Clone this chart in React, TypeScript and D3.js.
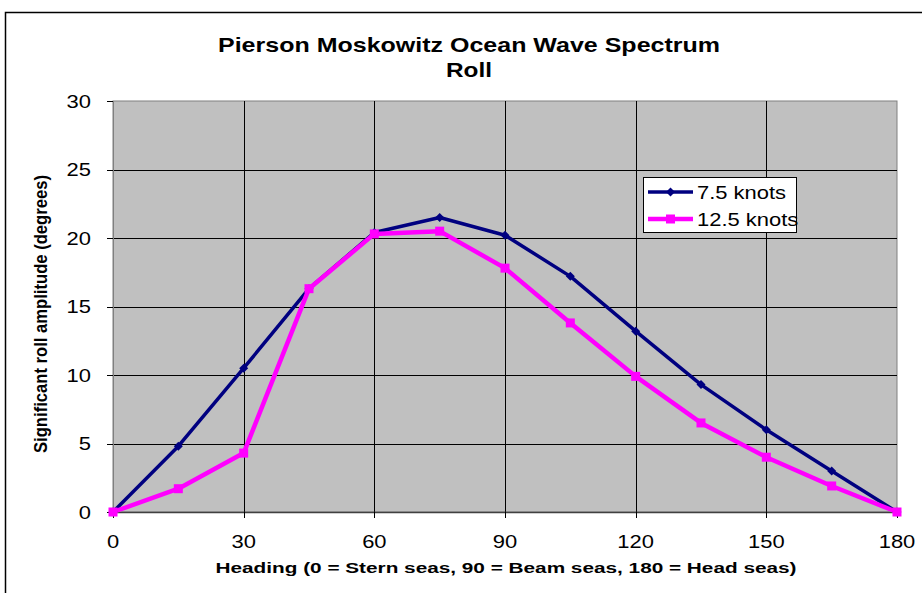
import * as d3 from "d3";
import React from "react";

const headings = [0, 15, 30, 45, 60, 75, 90, 105, 120, 135, 150, 165, 180];
const roll75 = [0, 4.8, 10.5, 16.3, 20.4, 21.5, 20.2, 17.2, 13.2, 9.3, 6.0, 3.0, 0];
const roll125 = [0, 1.7, 4.3, 16.3, 20.3, 20.5, 17.8, 13.8, 9.9, 6.5, 4.0, 1.9, 0];
const xTicks = [0, 30, 60, 90, 120, 150, 180];
const yTicks = [0, 5, 10, 15, 20, 25, 30];
const seriesNames = ["7.5 knots", "12.5 knots"];

// the source picture is stretched sideways, text gets the same stretch
const SX = 1.22;
const FONT = "'Liberation Sans', Arial, sans-serif";

function SText(props: { x: number, y: number, size: number, bold?: boolean, anchor?: string, rotate?: number, len?: number, children: any }) {
    const { x, y, size, bold, anchor, rotate, len, children } = props;
    const tf = rotate
        ? `translate(${x},${y}) scale(${SX},1) rotate(${rotate})`
        : `translate(${x},${y}) scale(${SX},1)`;
    // len is the wanted on-screen length
    const tl = len ? (rotate ? len : len / SX) : undefined;
    return <text transform={tf} fontSize={size} fontWeight={bold ? "bold" : "normal"}
        textAnchor={anchor || "start"} fontFamily={FONT} fill="#000"
        textLength={tl} lengthAdjust={tl ? "spacingAndGlyphs" : undefined}>{children}</text>
}

export default function App() {
    const W = 922, H = 593;
    const margin = { top: 101, right: 25, bottom: 81, left: 113 };
    const x = d3.scaleLinear().domain([0, 180]).range([margin.left, W - margin.right]);
    const y = d3.scaleLinear().domain([0, 30]).range([H - margin.bottom, margin.top]);

    const line = d3.line<number>()
        .x((d, i) => x(headings[i]))
        .y(d => y(d));

    const colors = ["#000080", "#FF00FF"];
    const widths = [3.5, 4.5];
    const data = [roll75, roll125];

    const diamond = (cx: number, cy: number, r: number) =>
        `M${cx},${cy - r}L${cx + r},${cy}L${cx},${cy + r}L${cx - r},${cy}Z`;

    const lgX = 643, lgY = 177;

    return <div style={{ position: "absolute", left: 0, top: 0 }}>
        <svg width={W} height={H} style={{ display: "block", background: "#fff" }}>
            {/* chart frame */}
            <path d={`M5.5,${H}V12.5H${W}`} fill="none" stroke="#000" strokeWidth={1.5} />

            {/* plot area */}
            <rect x={x(0)} y={y(30)} width={x(180) - x(0)} height={y(0) - y(30)} fill="#C0C0C0" stroke="#808080" strokeWidth={1} />
            {yTicks.filter(t => t > 0 && t < 30).map(t =>
                <line key={"gy" + t} x1={x(0)} x2={x(180)} y1={Math.round(y(t)) + 0.5} y2={Math.round(y(t)) + 0.5} stroke="#000" strokeWidth={1} />)}
            {xTicks.filter(t => t > 0 && t < 180).map(t =>
                <line key={"gx" + t} x1={Math.round(x(t)) + 0.5} x2={Math.round(x(t)) + 0.5} y1={y(30)} y2={y(0)} stroke="#000" strokeWidth={1} />)}

            {/* axes */}
            <line x1={x(0) + 0.5} x2={x(0) + 0.5} y1={y(30)} y2={y(0)} stroke="#808080" strokeWidth={1} />
            <line x1={x(0)} x2={x(180)} y1={y(0) + 0.5} y2={y(0) + 0.5} stroke="#404040" strokeWidth={1.5} />
            {yTicks.map(t =>
                <g key={"yt" + t}>
                    <line x1={x(0) - 6} x2={x(0)} y1={Math.round(y(t)) + 0.5} y2={Math.round(y(t)) + 0.5} stroke="#000" />
                    <SText x={91} y={y(t) + 6.5} size={18} anchor="end">{t}</SText>
                </g>)}
            {xTicks.map(t =>
                <g key={"xt" + t}>
                    <line x1={Math.round(x(t)) + 0.5} x2={Math.round(x(t)) + 0.5} y1={y(0)} y2={y(0) + 6} stroke="#000" />
                    <SText x={x(t)} y={548} size={18} anchor="middle">{t}</SText>
                </g>)}

            {/* series */}
            {data.map((s, k) =>
                <path key={"l" + k} d={line(s) || ""} fill="none" stroke={colors[k]} strokeWidth={widths[k]} strokeLinejoin="round" />)}
            {roll75.map((v, i) =>
                <path key={"m0" + i} d={diamond(x(headings[i]), y(v), 4.5)} fill={colors[0]} />)}
            {roll125.map((v, i) =>
                <rect key={"m1" + i} x={x(headings[i]) - 4.5} y={y(v) - 4.5} width={9} height={9} fill={colors[1]} />)}

            {/* legend */}
            <rect x={lgX + 0.5} y={lgY + 0.5} width={153} height={55} fill="#fff" stroke="#000" strokeWidth={1} />
            {seriesNames.map((n, k) => {
                const ly = lgY + 15 + k * 27;
                return <g key={"lg" + k}>
                    <line x1={lgX + 5} x2={lgX + 50} y1={ly} y2={ly} stroke={colors[k]} strokeWidth={widths[k]} />
                    {k == 0
                        ? <path d={diamond(lgX + 27.5, ly, 4.5)} fill={colors[k]} />
                        : <rect x={lgX + 23} y={ly - 4.5} width={9} height={9} fill={colors[k]} />}
                    <SText x={lgX + 54} y={ly + 6.5} size={18}>{n}</SText>
                </g>
            })}

            {/* titles */}
            <SText x={469} y={52} size={20} bold anchor="middle" len={502}>Pierson Moskowitz Ocean Wave Spectrum</SText>
            <SText x={469} y={77} size={20} bold anchor="middle">Roll</SText>
            <SText x={506} y={573} size={15.5} bold anchor="middle" len={581}>Heading (0 = Stern seas, 90 = Beam seas, 180 = Head seas)</SText>
            <SText x={47} y={314} size={14.5} bold anchor="middle" rotate={-90} len={278}>Significant roll amplitude (degrees)</SText>
        </svg>
    </div>
}
